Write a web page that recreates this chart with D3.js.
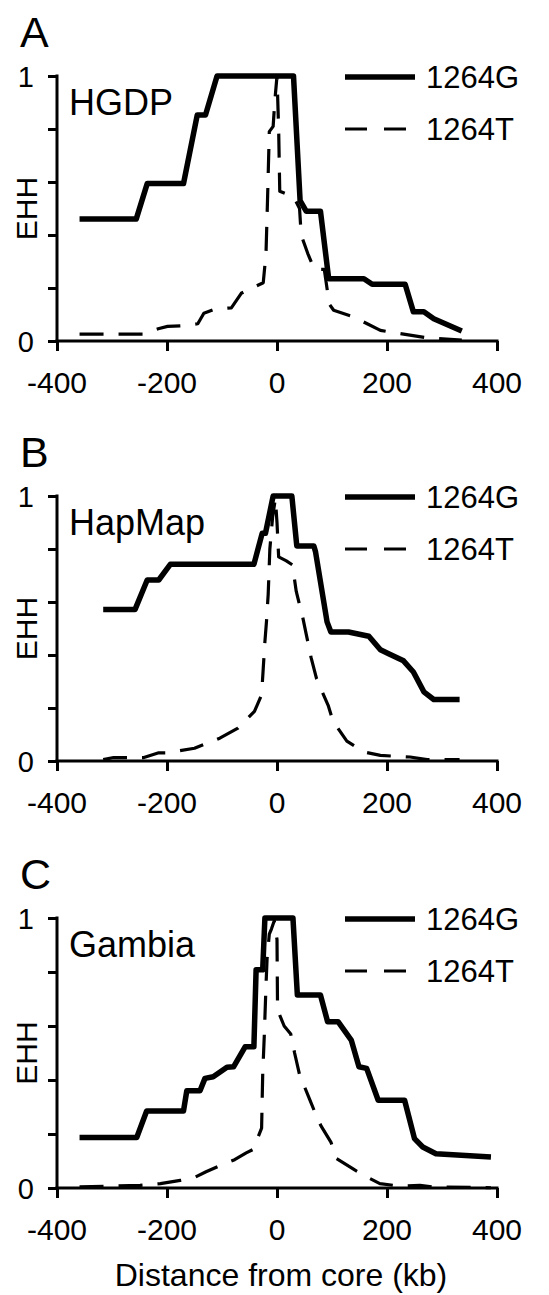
<!DOCTYPE html>
<html lang="en">
  <head>
    <meta charset="UTF-8" />
    <title>EHH decay around 1264</title>
    <style>
      body { margin: 0; background: #fff; }
      text { font-family: "Liberation Sans", Arial, sans-serif; fill: #000; }
    </style>
  </head>
  <body>
    <svg width="549" height="1295"></svg>
    <script src="https://d3js.org/d3.v7.min.js"></script>
    <script>
      // ---- data (kb from core, EHH) ----
      const panelLetters = ["A", "B", "C"];
      const populations = ["HGDP", "HapMap", "Gambia"];
      const seriesNames = ["1264G", "1264T"];
      const xTicks = [-400, -200, 0, 200, 400];
      const yTicks = [0, 0.2, 0.4, 0.6, 0.8, 1];
      const yTickLabels = ["0", "", "", "", "", "1"];
      const xTitle = "Distance from core (kb)";
      const yTitle = "EHH";

      const hgdpG = [
        [-359, 0.46], [-256, 0.46], [-236, 0.594], [-170, 0.594], [-145, 0.853],
        [-130, 0.853], [-109, 1.0], [30, 1.0], [42, 0.53], [53, 0.49], [79, 0.49],
        [94, 0.235], [158, 0.235], [173, 0.214], [233, 0.214], [248, 0.11],
        [267, 0.11], [285, 0.084], [336, 0.038]
      ];
      const hgdpT = [
        [-359, 0.026], [-244, 0.026], [-216, 0.046], [-199, 0.055], [-170, 0.058],
        [-144, 0.065], [-133, 0.105], [-113, 0.12], [-83, 0.125], [-65, 0.18],
        [-50, 0.195], [-25, 0.22], [-20, 0.33], [-17, 0.55], [-14, 0.79],
        [-7, 0.81], [-4, 0.905], [0, 1.0], [3, 0.8], [5, 0.565], [30, 0.545],
        [41, 0.5], [44, 0.4], [56, 0.33], [68, 0.27], [86, 0.27], [95, 0.14],
        [103, 0.116], [139, 0.091], [164, 0.065], [188, 0.04], [224, 0.028],
        [270, 0.013], [336, 0.003]
      ];
      const hapmapG = [
        [-316, 0.572], [-258, 0.572], [-236, 0.683], [-215, 0.683], [-194, 0.742],
        [-42, 0.742], [-27, 0.859], [-21, 0.859], [-7, 1.0], [27, 1.0], [36, 0.811],
        [67, 0.811], [70, 0.79], [91, 0.525], [98, 0.487], [130, 0.487],
        [167, 0.471], [188, 0.42], [203, 0.405], [230, 0.378], [248, 0.336],
        [267, 0.261], [285, 0.232], [332, 0.232]
      ];
      const hapmapT = [
        [-316, 0.005], [-297, 0.013], [-242, 0.013], [-215, 0.031], [-200, 0.031],
        [-150, 0.048], [-130, 0.065], [-104, 0.086], [-71, 0.124], [-41, 0.187],
        [-28, 0.25], [-25, 0.35], [-22, 0.45], [-19, 0.53], [-16, 0.63],
        [-13, 0.8], [-8, 0.92], [-3, 0.99], [0, 0.9], [3, 0.77], [17, 0.755],
        [28, 0.74], [35, 0.64], [47, 0.54], [53, 0.48], [62, 0.39], [72, 0.31],
        [93, 0.21], [102, 0.15], [127, 0.075], [158, 0.034], [188, 0.021],
        [242, 0.015], [273, 0.005], [332, 0.005]
      ];
      const gambiaG = [
        [-359, 0.187], [-255, 0.187], [-237, 0.285], [-170, 0.285], [-164, 0.36],
        [-140, 0.36], [-131, 0.406], [-116, 0.412], [-91, 0.447], [-79, 0.449],
        [-58, 0.523], [-42, 0.523], [-38, 0.808], [-26, 0.808], [-22, 1.0],
        [29, 1.0], [37, 0.715], [79, 0.715], [92, 0.616], [111, 0.616],
        [135, 0.548], [149, 0.449], [163, 0.443], [184, 0.325], [232, 0.325],
        [250, 0.183], [265, 0.152], [289, 0.127], [389, 0.115]
      ];
      const gambiaT = [
        [-359, 0.004], [-249, 0.01], [-212, 0.016], [-176, 0.028], [-152, 0.037],
        [-129, 0.06], [-107, 0.08], [-77, 0.105], [-56, 0.13], [-44, 0.142],
        [-38, 0.17], [-28, 0.222], [-26, 0.42], [-23, 0.57], [-20, 0.75],
        [-18, 0.85], [-14, 0.94], [-10, 0.96], [-5, 0.99], [0, 0.92], [1, 0.66],
        [13, 0.6], [25, 0.57], [32, 0.5], [41, 0.42], [59, 0.33], [71, 0.27],
        [80, 0.23], [98, 0.17], [108, 0.109], [142, 0.066], [169, 0.035],
        [187, 0.016], [223, 0.007], [260, 0.01], [284, 0.004], [389, 0.001]
      ];
      const seriesG = [hgdpG, hapmapG, gambiaG];
      const seriesT = [hgdpT, hapmapT, gambiaT];

      // ---- layout ----
      const svg = d3.select("svg");
      const panelTop = [76, 496, 918];
      const panelBottom = [341, 761, 1188];
      const dash = "24,15";

      const x = d3.scaleLinear().domain([-400, 400]).range([57, 497]);

      panelLetters.forEach((letter, i) => {
        const y = d3.scaleLinear().domain([0, 1]).range([panelBottom[i], panelTop[i]]);
        const g = svg.append("g");

        // axes
        const yAxis = g.append("g").attr("transform", `translate(${x(-400)},0)`)
          .call(d3.axisLeft(y).tickValues(yTicks).tickSize(9).tickFormat(""));
        const xAxis = g.append("g").attr("transform", `translate(0,${y(0)})`)
          .call(d3.axisBottom(x).tickValues(xTicks).tickSize(10).tickFormat(""));
        [yAxis, xAxis].forEach((a) => {
          a.select(".domain").remove();
          a.selectAll("line").attr("stroke", "#000").attr("stroke-width", 3);
        });
        g.append("line")
          .attr("x1", x(-400)).attr("x2", x(-400))
          .attr("y1", y(1) - 1.5).attr("y2", y(0))
          .attr("stroke", "#000").attr("stroke-width", 3);
        g.append("line")
          .attr("x1", x(-400) - 1.5).attr("x2", x(400) + 1.5)
          .attr("y1", y(0)).attr("y2", y(0))
          .attr("stroke", "#000").attr("stroke-width", 3);

        g.selectAll(".ylab").data(yTicks).enter().append("text")
          .attr("x", 34).attr("y", (d) => y(d) + 11)
          .attr("text-anchor", "end").attr("font-size", 29)
          .text((d, j) => yTickLabels[j]);
        g.selectAll(".xlab").data(xTicks).enter().append("text")
          .attr("x", (d) => x(d)).attr("y", y(0) + 52)
          .attr("text-anchor", "middle").attr("font-size", 30)
          .text((d) => d);

        g.append("text")
          .attr("transform", `translate(37,${(y(0) + y(1)) / 2}) rotate(-90)`)
          .attr("text-anchor", "middle").attr("font-size", 30)
          .text(yTitle);

        g.append("text").attr("x", 20).attr("y", y(1) - 29)
          .attr("font-size", 43).text(letter);
        g.append("text").attr("x", 69).attr("y", y(1) + 39)
          .attr("font-size", 36).text(populations[i]);

        // legend
        g.append("line").attr("x1", 345).attr("x2", 415)
          .attr("y1", y(1) + 1).attr("y2", y(1) + 1)
          .attr("stroke", "#000").attr("stroke-width", 5.5);
        g.append("line").attr("x1", 345).attr("x2", 415)
          .attr("y1", y(1) + 53).attr("y2", y(1) + 53)
          .attr("stroke", "#000").attr("stroke-width", 3.2)
          .attr("stroke-dasharray", "22,17");
        g.append("text").attr("x", 426).attr("y", y(1) + 12)
          .attr("font-size", 31).text(seriesNames[0]);
        g.append("text").attr("x", 426).attr("y", y(1) + 64)
          .attr("font-size", 31).text(seriesNames[1]);

        // lines
        const line = d3.line().x((d) => x(d[0])).y((d) => y(d[1]));
        g.append("path").datum(seriesT[i])
          .attr("d", line).attr("fill", "none")
          .attr("stroke", "#000").attr("stroke-width", 3.2)
          .attr("stroke-dasharray", dash).attr("stroke-linejoin", "round");
        g.append("path").datum(seriesG[i])
          .attr("d", line).attr("fill", "none")
          .attr("stroke", "#000").attr("stroke-width", 5.5)
          .attr("stroke-linejoin", "round");
      });

      svg.append("text")
        .attr("x", 281).attr("y", 1286)
        .attr("text-anchor", "middle").attr("font-size", 32)
        .text(xTitle);
    </script>
  </body>
</html>
